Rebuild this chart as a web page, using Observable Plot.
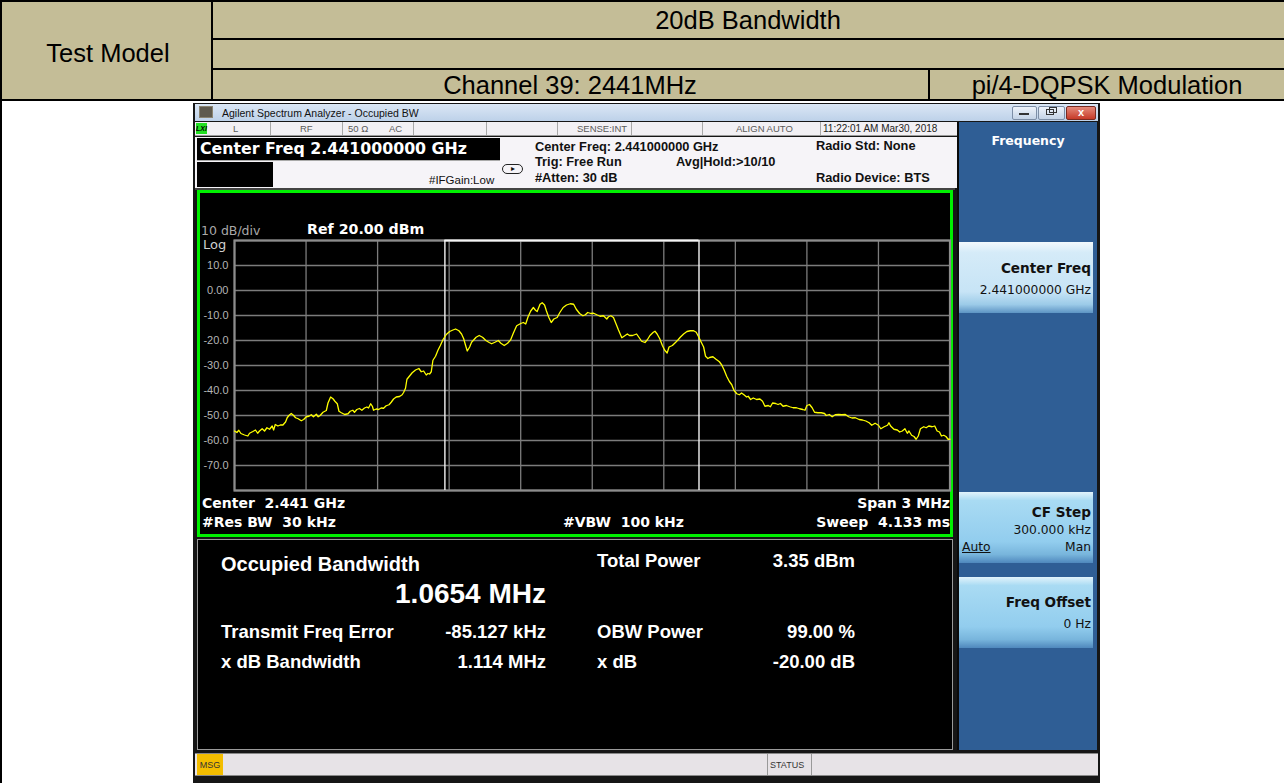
<!DOCTYPE html>
<html><head><meta charset="utf-8">
<script src="https://cdn.jsdelivr.net/npm/d3@7"></script>
<script src="https://cdn.jsdelivr.net/npm/@observablehq/plot@0.6"></script>
<style>
body{margin:0;width:1284px;height:783px;position:relative;overflow:hidden;background:#fff;font-family:Arial,"Liberation Sans",sans-serif;}
.b{position:absolute;box-sizing:border-box;}
.t{position:absolute;white-space:pre;height:24px;line-height:24px;}
</style></head><body>
<div id="root"></div>
<script>
// ---------- data ----------
const freqTicksMHz = [-1.5,-1.2,-0.9,-0.6,-0.3,0,0.3,0.6,0.9,1.2,1.5];
const levelGrid = [20,10,0,-10,-20,-30,-40,-50,-60,-70,-80];
const levelTicks = [10,0,-10,-20,-30,-40,-50,-60,-70];
const levelTickLabels = ["10.0","0.00","-10.0","-20.0","-30.0","-40.0","-50.0","-60.0","-70.0"];
const obwMHz = 1.0654;
const freqErrorMHz = -0.085127;
// trace: [offset from 2.441 GHz in MHz, level in dBm]
const trace = [
[-1.500,-56.2],[-1.490,-56.8],[-1.482,-55.9],[-1.473,-57.2],[-1.458,-57.8],[-1.444,-58.2],[-1.437,-57.1],[-1.423,-56.4],[-1.412,-55.8],[-1.403,-57.1],
[-1.395,-56.2],[-1.384,-55.3],[-1.374,-56.2],[-1.364,-54.9],[-1.353,-55.5],[-1.342,-54.2],[-1.336,-55.8],[-1.329,-53.6],[-1.318,-54.2],[-1.308,-53.8],
[-1.297,-53.8],[-1.286,-52.6],[-1.279,-50.9],[-1.272,-50.0],[-1.262,-49.2],[-1.252,-50.0],[-1.244,-50.9],[-1.233,-51.3],[-1.220,-52.1],[-1.210,-51.6],
[-1.199,-50.5],[-1.188,-50.3],[-1.178,-49.7],[-1.169,-50.5],[-1.157,-49.5],[-1.149,-50.5],[-1.141,-50.0],[-1.129,-48.7],[-1.115,-48.0],[-1.108,-45.0],
[-1.097,-42.6],[-1.087,-43.3],[-1.079,-44.3],[-1.069,-45.3],[-1.062,-48.3],[-1.052,-48.9],[-1.038,-49.6],[-1.024,-49.3],[-1.015,-48.3],[-1.004,-47.9],
[-0.997,-48.7],[-0.987,-47.6],[-0.976,-47.2],[-0.966,-47.9],[-0.955,-47.0],[-0.945,-46.6],[-0.938,-47.0],[-0.929,-45.3],[-0.922,-46.3],[-0.917,-47.9],
[-0.906,-47.4],[-0.896,-47.6],[-0.885,-47.0],[-0.875,-47.1],[-0.864,-46.1],[-0.852,-45.7],[-0.843,-44.7],[-0.833,-43.4],[-0.822,-42.6],[-0.808,-42.4],
[-0.797,-41.7],[-0.791,-40.8],[-0.783,-39.1],[-0.777,-35.5],[-0.766,-34.2],[-0.755,-32.9],[-0.741,-31.8],[-0.727,-31.2],[-0.717,-32.5],[-0.707,-32.2],
[-0.696,-33.8],[-0.689,-33.2],[-0.682,-33.4],[-0.675,-32.5],[-0.668,-27.9],[-0.657,-26.3],[-0.647,-23.9],[-0.637,-22.0],[-0.626,-19.7],[-0.612,-17.6],
[-0.598,-16.4],[-0.584,-15.8],[-0.573,-15.4],[-0.559,-16.1],[-0.548,-17.4],[-0.539,-19.3],[-0.531,-22.0],[-0.524,-24.2],[-0.514,-22.6],[-0.506,-20.7],
[-0.487,-18.7],[-0.474,-18.0],[-0.460,-18.7],[-0.446,-20.0],[-0.432,-20.8],[-0.422,-21.3],[-0.408,-20.7],[-0.394,-20.0],[-0.383,-21.1],[-0.369,-22.0],
[-0.355,-21.1],[-0.342,-19.7],[-0.331,-17.1],[-0.317,-14.1],[-0.300,-13.2],[-0.289,-12.8],[-0.279,-13.4],[-0.269,-10.5],[-0.258,-8.2],[-0.247,-6.8],
[-0.238,-7.9],[-0.231,-8.4],[-0.219,-5.5],[-0.210,-4.9],[-0.200,-5.8],[-0.192,-8.2],[-0.182,-10.8],[-0.172,-12.8],[-0.161,-11.4],[-0.147,-10.8],
[-0.136,-8.8],[-0.122,-6.8],[-0.108,-5.8],[-0.092,-5.3],[-0.078,-5.5],[-0.067,-7.5],[-0.053,-9.2],[-0.039,-10.1],[-0.029,-9.7],[-0.019,-8.8],
[-0.006,-9.2],[0.006,-9.1],[0.019,-9.7],[0.033,-10.3],[0.047,-10.1],[0.061,-11.4],[0.068,-10.5],[0.078,-10.1],[0.089,-10.8],[0.100,-13.4],
[0.110,-15.8],[0.124,-18.9],[0.138,-18.0],[0.147,-17.4],[0.156,-18.0],[0.169,-18.0],[0.186,-17.4],[0.197,-18.9],[0.207,-20.3],[0.221,-20.8],
[0.231,-19.7],[0.242,-18.0],[0.256,-16.7],[0.263,-16.3],[0.272,-17.4],[0.283,-19.3],[0.294,-22.0],[0.304,-23.9],[0.314,-25.0],[0.322,-22.6],
[0.336,-22.0],[0.350,-20.7],[0.360,-19.7],[0.369,-18.7],[0.383,-17.4],[0.397,-16.4],[0.411,-16.1],[0.425,-16.1],[0.436,-16.7],[0.447,-18.7],
[0.457,-20.7],[0.467,-22.6],[0.475,-26.3],[0.485,-27.2],[0.492,-26.8],[0.506,-26.5],[0.519,-27.5],[0.533,-28.5],[0.543,-29.8],[0.553,-31.8],
[0.564,-34.4],[0.575,-36.4],[0.585,-37.7],[0.594,-39.9],[0.606,-41.3],[0.617,-41.7],[0.626,-41.0],[0.636,-41.7],[0.647,-42.6],[0.654,-42.3],
[0.664,-43.6],[0.675,-43.0],[0.689,-43.6],[0.703,-43.4],[0.714,-44.3],[0.724,-46.3],[0.738,-46.0],[0.747,-46.5],[0.756,-45.0],[0.769,-45.2],
[0.779,-45.6],[0.789,-45.2],[0.800,-46.3],[0.814,-46.0],[0.828,-46.5],[0.842,-46.9],[0.856,-46.9],[0.869,-47.3],[0.883,-47.6],[0.892,-47.9],
[0.900,-46.0],[0.911,-45.6],[0.922,-46.9],[0.932,-48.7],[0.946,-48.9],[0.960,-48.9],[0.974,-49.2],[0.981,-50.0],[0.994,-49.6],[1.006,-50.5],
[1.019,-49.7],[1.033,-49.6],[1.047,-49.7],[1.061,-49.6],[1.075,-50.5],[1.089,-51.0],[1.103,-50.9],[1.119,-51.6],[1.133,-51.8],[1.147,-52.2],
[1.161,-52.9],[1.172,-53.9],[1.186,-53.1],[1.200,-53.9],[1.210,-55.3],[1.224,-54.5],[1.238,-53.9],[1.244,-52.9],[1.251,-54.2],[1.265,-55.5],
[1.279,-55.8],[1.289,-56.6],[1.300,-56.2],[1.311,-55.3],[1.321,-57.1],[1.328,-56.2],[1.339,-57.9],[1.349,-58.4],[1.358,-59.5],[1.367,-58.2],
[1.376,-55.3],[1.390,-54.5],[1.400,-54.9],[1.411,-54.2],[1.425,-54.5],[1.436,-54.2],[1.446,-56.2],[1.456,-56.6],[1.464,-58.2],[1.474,-57.9],
[1.483,-58.4],[1.492,-59.5],[1.500,-59.5]
];

// ---------- helpers ----------
const root = document.body;
function box(x, y, w, h, css) {
  const d = document.createElement("div");
  d.className = "b";
  d.style.cssText = `left:${x}px;top:${y}px;width:${w}px;height:${h}px;` + (css || "");
  root.appendChild(d);
  return d;
}
function txt(s, x, cy, css, anchor) {
  const d = document.createElement("div");
  d.className = "t";
  d.textContent = s;
  const tr = anchor === "end" ? "translateX(-100%)" : anchor === "middle" ? "translateX(-50%)" : "none";
  d.style.cssText = `left:${x}px;top:${cy - 12}px;transform:${tr};` + (css || "");
  root.appendChild(d);
  return d;
}
const DJ = "font-family:'DejaVu Sans',Verdana,sans-serif;";

// ---------- report table ----------
box(0, 0, 1284, 100, "background:#c4bd97;");
box(0, 0, 1284, 2, "background:#000;");
box(0, 0, 2, 783, "background:#000;");
box(211, 0, 2, 100, "background:#000;");
box(212, 38, 1072, 2, "background:#000;");
box(212, 68, 1072, 2, "background:#000;");
box(0, 99, 1284, 2, "background:#000;");
box(928, 69, 2, 31, "background:#000;");
txt("20dB Bandwidth", 748, 20, "font-size:25.5px;color:#000;", "middle");
txt("Test Model", 108, 53, "font-size:25.5px;color:#000;", "middle");
txt("Channel 39: 2441MHz", 570, 85, "font-size:25.5px;color:#000;", "middle");
txt("pi/4-DQPSK Modulation", 1107, 85, "font-size:25.5px;color:#000;", "middle");

// ---------- analyzer window ----------
box(193, 103, 907, 680, "background:#161616;");
// title bar
box(195, 104, 903, 17, "background:linear-gradient(#dbe7f5,#bdd1e9);");
box(199, 106, 14, 12, "background:#5f5a4e;border:1px solid #8b8470;");
txt("Agilent Spectrum Analyzer - Occupied BW", 222, 112.5, "font-size:10.5px;color:#111;");
box(1012, 106, 25, 14, "background:linear-gradient(#eef3fa,#c4d3e6);border:1px solid #7d8ea6;border-radius:2px;");
box(1019, 113, 10, 2, "background:#333;");
box(1038, 106, 27, 14, "background:linear-gradient(#eef3fa,#c4d3e6);border:1px solid #7d8ea6;border-radius:2px;");
box(1046, 109, 8, 6, "border:1px solid #333;");
box(1049, 107, 8, 6, "border:1px solid #333;");
box(1066, 106, 30, 14, "background:linear-gradient(#e58a7a,#c63a28);border:1px solid #7a2a20;border-radius:2px;");
txt("x", 1081, 112, "font-size:11px;font-weight:bold;color:#fff;", "middle");
// status row
box(195, 122, 762, 14, "background:#f2f0f4;border-bottom:1px solid #9a9a9a;");
box(196, 123, 11, 11, "background:#22e022;");
txt("LXI", 201.5, 128.5, "font-size:7px;font-weight:bold;font-style:italic;color:#000;", "middle");
[270, 342, 413, 486, 557, 631, 702, 820].forEach(x => box(x, 122, 1, 13, "background:#a9a9a9;"));
const stat = "font-size:9.5px;color:#5a5a5a;";
txt("L", 233, 128.5, stat);
txt("RF", 300, 128.5, stat);
txt("50 Ω", 348, 128.5, stat);
txt("AC", 389, 128.5, stat);
txt("SENSE:INT", 577, 128.5, stat);
txt("ALIGN AUTO", 736, 128.5, stat);
txt("11:22:01 AM Mar30, 2018", 823, 128.5, "font-size:10px;color:#222;");
// info panel
box(195, 137, 762, 51, "background:#f6f4f8;");
box(197, 138, 303, 22, "background:#000;");
txt("Center Freq 2.441000000 GHz", 200, 149, DJ + "font-size:15.8px;font-weight:bold;color:#fff;");
box(197, 160, 303, 1, "background:#aaa;");
box(197, 162, 76, 25, "background:#000;");
txt("#IFGain:Low", 429, 180, "font-size:11.5px;color:#111;");
box(502, 164, 21, 10, "border:1.5px solid #222;border-radius:5px;");
txt("▸", 512.5, 169, "font-size:8px;color:#111;", "middle");
const inf = "font-size:12.8px;font-weight:bold;color:#111;";
txt("Center Freq: 2.441000000 GHz", 535, 147, inf);
txt("Trig: Free Run", 535, 162, inf);
txt("Avg|Hold:>10/10", 676, 162, inf);
txt("#Atten: 30 dB", 535, 178, inf);
txt("Radio Std: None", 816, 146, inf);
txt("Radio Device: BTS", 816, 178, inf);
box(195, 188, 760, 2, "background:#444;");

// graph green box
box(197, 190, 756, 347, "background:#000;border:3px solid #00f000;");

// softkey panel
box(957, 122, 140, 628, "background:#2f5e95;border-left:2px solid #0a0a0a;");
txt("Frequency", 1028, 141, DJ + "font-size:12.5px;font-weight:bold;color:#fff;", "middle");
box(959, 242, 134, 71, "background:linear-gradient(#f2f9fd 0%,#d5ebf8 15%,#c7e4f6 70%,#9ccbe8 88%,#5d94c4 100%);");
txt("Center Freq", 1091, 268, DJ + "font-size:13.6px;font-weight:bold;color:#111;", "end");
txt("2.441000000 GHz", 1091, 290, DJ + "font-size:12.3px;color:#111;", "end");
box(959, 492, 134, 71, "background:linear-gradient(#e2f3fb 0%,#a9dbf3 12%,#92cdee 70%,#78b5dc 88%,#4f88bd 100%);");
txt("CF Step", 1091, 512, DJ + "font-size:13.6px;font-weight:bold;color:#111;", "end");
txt("300.000 kHz", 1091, 530, DJ + "font-size:12.3px;color:#111;", "end");
txt("Auto", 962, 547, DJ + "font-size:12.3px;color:#111;text-decoration:underline;");
txt("Man", 1091, 547, DJ + "font-size:12.3px;color:#111;", "end");
box(959, 577, 134, 71, "background:linear-gradient(#e2f3fb 0%,#a9dbf3 12%,#92cdee 70%,#78b5dc 88%,#4f88bd 100%);");
txt("Freq Offset", 1091, 602, DJ + "font-size:13.6px;font-weight:bold;color:#111;", "end");
txt("0 Hz", 1091, 624, DJ + "font-size:12.3px;color:#111;", "end");

// results panel
box(197, 539, 756, 211, "background:#000;border:1px solid #9a9a9a;");
const rs = "font-size:18.5px;font-weight:bold;color:#fff;";
txt("Occupied Bandwidth", 221, 564, "font-size:20px;font-weight:bold;color:#fff;");
txt("1.0654 MHz", 546, 594, "font-size:28px;font-weight:bold;color:#fff;", "end");
txt("Total Power", 597, 561, rs);
txt("3.35 dBm", 855, 561, rs, "end");
txt("Transmit Freq Error", 221, 632, rs);
txt("-85.127 kHz", 546, 632, rs, "end");
txt("OBW Power", 597, 632, rs);
txt("99.00 %", 855, 632, rs, "end");
txt("x dB Bandwidth", 221, 662, rs);
txt("1.114 MHz", 546, 662, rs, "end");
txt("x dB", 597, 662, rs);
txt("-20.00 dB", 855, 662, rs, "end");

// bottom status bar
box(195, 753, 903, 23, "background:#e7e3e7;border-top:1px solid #888;border-bottom:1px solid #888;");
box(197, 754, 26, 21, "background:#f3bd00;");
txt("MSG", 210, 765, "font-size:9px;color:#333;", "middle");
box(767, 754, 1, 21, "background:#999;");
box(811, 754, 1, 21, "background:#999;");
txt("STATUS", 770, 765, "font-size:9px;color:#333;");

// ---------- the chart (Observable Plot) ----------
const chart = Plot.plot({
  width: 750, height: 341,
  marginLeft: 34, marginRight: 0.5, marginTop: 47, marginBottom: 44,
  style: {background: "transparent", color: "#b5b5b5", fontFamily: "Arial, 'Liberation Sans', sans-serif", fontSize: "11px", overflow: "visible"},
  x: {domain: [-1.5, 1.5], axis: null},
  y: {domain: [-80, 20], axis: null},
  marks: [
    Plot.ruleX(freqTicksMHz, {stroke: "#7c7c7c", strokeWidth: 1.3}),
    Plot.ruleY(levelGrid, {stroke: "#7c7c7c", strokeWidth: 1.3}),
    Plot.frame({stroke: "#8c8c8c", strokeWidth: 2.2}),
    Plot.axisY(levelTicks, {anchor: "left", tickSize: 0, tickPadding: 6, label: null,
      tickFormat: d => levelTickLabels[levelTicks.indexOf(d)], fill: "#b5b5b5", fontSize: 11}),
    Plot.ruleX([freqErrorMHz - obwMHz / 2, freqErrorMHz + obwMHz / 2], {stroke: "#f4f4f4", strokeWidth: 1.4}),
    Plot.ruleY([20], {x1: freqErrorMHz - obwMHz / 2, x2: freqErrorMHz + obwMHz / 2, stroke: "#f4f4f4", strokeWidth: 2}),
    Plot.line(trace, {x: d => d[0], y: d => d[1], stroke: "#ffff00", strokeWidth: 1.3})
  ]
});
const holder = box(200, 193, 750, 341, "");
holder.appendChild(chart);

// graph annotations
txt("10 dB/div", 201, 231, DJ + "font-size:12.5px;color:#a8a8a8;");
txt("Ref 20.00 dBm", 307, 229, DJ + "font-size:14.2px;font-weight:bold;color:#fff;");
txt("Log", 203, 245, DJ + "font-size:13px;color:#cfcfcf;");
const gb = DJ + "font-size:14px;font-weight:bold;color:#fff;";
txt("Center  2.441 GHz", 202, 503, gb);
txt("#Res BW  30 kHz", 202, 522, gb);
txt("#VBW  100 kHz", 563, 522, gb);
txt("Span 3 MHz", 950, 503, gb, "end");
txt("Sweep  4.133 ms", 950, 522, gb, "end");
</script>
</body></html>
